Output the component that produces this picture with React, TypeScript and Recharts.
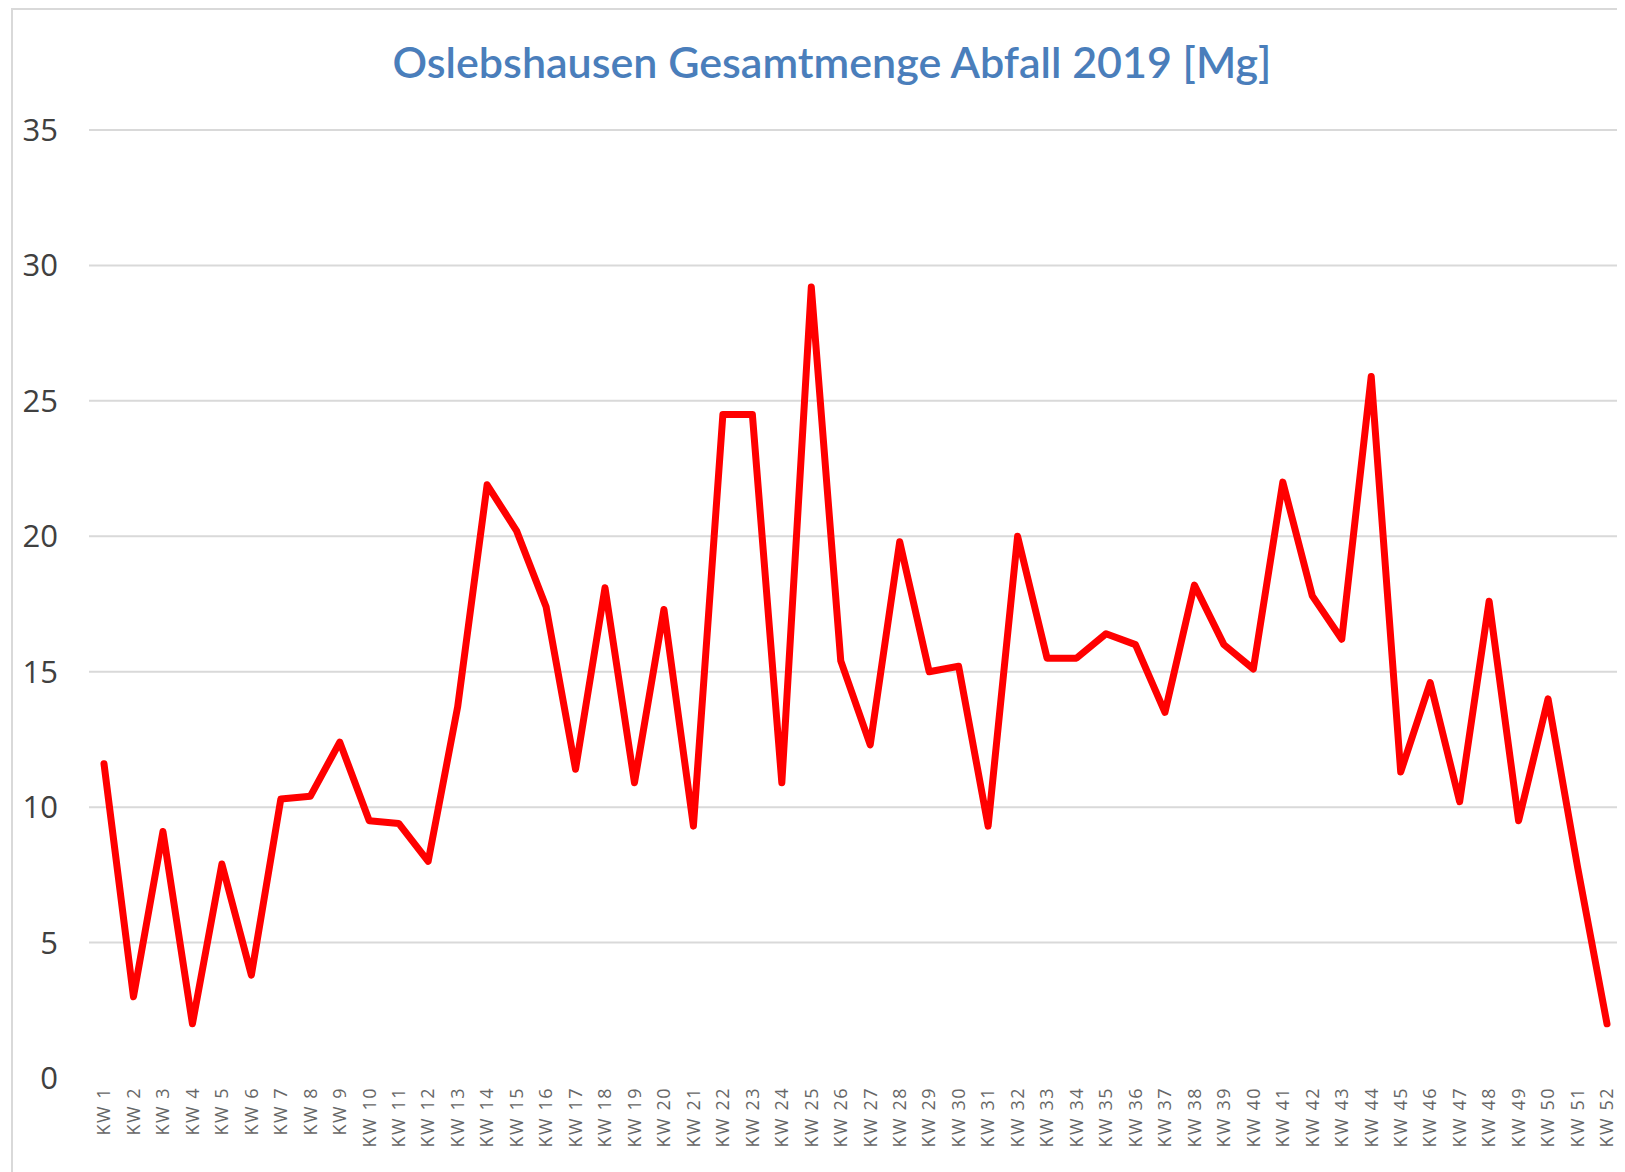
import { LineChart, Line, XAxis, YAxis, CartesianGrid } from 'recharts';

// Calendar weeks 2019
const weeks = Array.from({ length: 52 }, (_, i) => `KW ${i + 1}`);

// Total waste per week [Mg]
const totals = [
  11.6, 3.0, 9.1, 2.0, 7.9, 3.8, 10.3, 10.4, 12.4, 9.5,
  9.4, 8.0, 13.7, 21.9, 20.2, 17.4, 11.4, 18.1, 10.9, 17.3,
  9.3, 24.5, 24.5, 10.9, 29.2, 15.4, 12.3, 19.8, 15.0, 15.2,
  9.3, 20.0, 15.5, 15.5, 16.4, 16.0, 13.5, 18.2, 16.0, 15.1,
  22.0, 17.8, 16.2, 25.9, 11.3, 14.6, 10.2, 17.6, 9.5, 14.0,
  7.8, 2.0,
];

const yTicks = [0, 5, 10, 15, 20, 25, 30, 35];
const gridValues = [5, 10, 15, 20, 25, 30, 35];

const chartData = weeks.map((kw, i) => ({ kw, total: totals[i] }));

const KwTick = ({ x, y, payload }: any) => (
  <text
    x={x}
    y={y}
    dy="0.35em"
    transform={`rotate(-90, ${x}, ${y})`}
    textAnchor="end"
    fontSize={18}
    letterSpacing={1.5}
    fill="#666"
    fontFamily="'Open Sans', sans-serif"
  >
    {payload.value}
  </text>
);

export default function App() {
  return (
    <div
      style={{
        position: 'relative',
        marginLeft: 3,
        width: 1640,
        height: 1180,
        border: '2px solid #d9d9d9',
        background: '#fff',
        overflow: 'hidden',
      }}
    >
      <div
        style={{
          position: 'absolute',
          left: 0,
          top: 30,
          width: 1638,
          textAlign: 'center',
          fontFamily: 'Lato, sans-serif',
          fontSize: 43,
          lineHeight: '44px',
          fontWeight: 600,
          color: '#4a7ebb',
        }}
      >
        Oslebshausen Gesamtmenge Abfall 2019 [Mg]
      </div>
      <LineChart
        width={1640}
        height={1176}
        data={chartData}
        margin={{ top: 120, right: 31, left: 0, bottom: 8 }}
      >
        <CartesianGrid
          vertical={false}
          stroke="#d9d9d9"
          strokeWidth={2}
          horizontalValues={gridValues}
        />
        <XAxis
          dataKey="kw"
          interval={0}
          axisLine={false}
          tickLine={false}
          tickMargin={3}
          tick={<KwTick />}
          height={100}
          padding={{ left: 15, right: 15 }}
        />
        <YAxis
          domain={[0, 35]}
          ticks={yTicks}
          width={76}
          axisLine={false}
          tickLine={false}
          tickMargin={25}
          tick={{ fontSize: 31, fill: '#404040', fontFamily: "'Open Sans', sans-serif" }}
        />
        <Line
          type="linear"
          dataKey="total"
          stroke="#ff0000"
          strokeWidth={7}
          strokeLinejoin="round"
          strokeLinecap="round"
          dot={false}
          activeDot={false}
          isAnimationActive={false}
        />
      </LineChart>
    </div>
  );
}
